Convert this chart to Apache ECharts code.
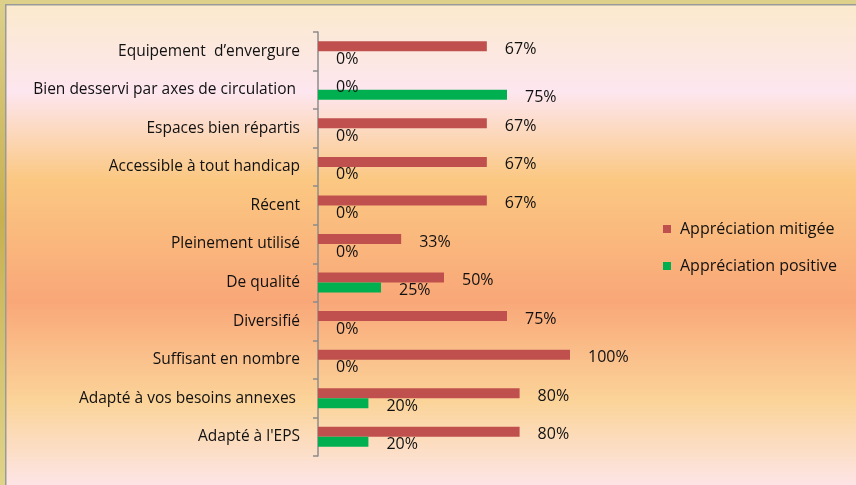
<!DOCTYPE html>
<html>
<head>
<meta charset="utf-8">
<script src="https://cdn.jsdelivr.net/npm/echarts@6/dist/echarts.min.js"></script>
<style>
  html, body { margin: 0; padding: 0; }
  #chart { width: 856px; height: 485px; }
</style>
</head>
<body>
<div id="chart"></div>
<script>
// categories, top to bottom
var categories = [
  'Equipement  d\u2019envergure',
  'Bien desservi par axes de circulation ',
  'Espaces bien r\u00e9partis',
  'Accessible \u00e0 tout handicap',
  'R\u00e9cent',
  'Pleinement utilis\u00e9',
  'De qualit\u00e9',
  'Diversifi\u00e9',
  'Suffisant en nombre',
  'Adapt\u00e9 \u00e0 vos besoins annexes ',
  'Adapt\u00e9 \u00e0 l\'EPS'
]
var mitigee = [67, 0, 67, 67, 67, 33, 50, 75, 100, 80, 80]
var positive = [0, 75, 0, 0, 0, 0, 25, 0, 0, 20, 20]
var seriesNames = ['Appr\u00e9ciation mitig\u00e9e', 'Appr\u00e9ciation positive']

var chart = echarts.init(document.getElementById('chart'))
var font = '"Open Sans", Lato, sans-serif'

var labelStyle = {
  show: true,
  position: 'right',
  distance: 18,
  offset: [0, 3],
  color: '#111',
  fontSize: 16,
  fontFamily: font,
  formatter: '{c}%'
}

var option = {
  animation: false,
  backgroundColor: {
    type: 'linear', x: 0, y: 0, x2: 0, y2: 1,
    colorStops: [
      { offset: 0.00, color: '#fbeacb' },
      { offset: 0.19, color: '#fde6ef' },
      { offset: 0.37, color: '#fbc882' },
      { offset: 0.62, color: '#f9a778' },
      { offset: 0.83, color: '#fbd49a' },
      { offset: 1.00, color: '#fde5e6' }
    ]
  },
  graphic: [
    // outer frame
    { type: 'rect', shape: { x: 0, y: 0, width: 856, height: 4 }, style: { fill: '#ddd08a' } },
    {
      type: 'rect', shape: { x: 0, y: 0, width: 5, height: 485 },
      style: {
        fill: {
          type: 'linear', x: 0, y: 0, x2: 0, y2: 1,
          colorStops: [
            { offset: 0, color: '#ddd08a' },
            { offset: 0.45, color: '#c8b050' },
            { offset: 1, color: '#e0d48a' }
          ]
        }
      }
    },
    { type: 'rect', shape: { x: 5, y: 4, width: 851, height: 1.5 }, style: { fill: '#9a9a9a' } },
    { type: 'rect', shape: { x: 5, y: 4, width: 1.5, height: 481 }, style: { fill: '#9a9a9a' } }
  ],
  legend: {
    orient: 'vertical',
    left: 658,
    top: 216,
    itemWidth: 8,
    itemHeight: 8,
    itemGap: 21,
    icon: 'rect',
    textStyle: { fontSize: 16, color: '#111', fontFamily: font, padding: [0, 0, 0, 4] },
    data: seriesNames
  },
  grid: {
    left: 318,
    top: 32,
    width: 252,
    height: 424,
    containLabel: false
  },
  xAxis: {
    type: 'value',
    min: 0,
    max: 100,
    show: false
  },
  yAxis: {
    type: 'category',
    inverse: true,
    data: categories,
    axisLine: { lineStyle: { color: '#8c8c8c', width: 1.5 } },
    axisTick: { show: true, length: 5, lineStyle: { color: '#8c8c8c', width: 1.5 } },
    axisLabel: { color: '#111', fontSize: 15.5, fontFamily: font, margin: 18 }
  },
  series: [
    {
      name: seriesNames[0],
      type: 'bar',
      barWidth: 10,
      barGap: '0%',
      itemStyle: { color: '#c0504d' },
      label: labelStyle,
      data: mitigee
    },
    {
      name: seriesNames[1],
      type: 'bar',
      barWidth: 10,
      barGap: '0%',
      itemStyle: { color: '#00b050' },
      label: labelStyle,
      data: positive
    }
  ]
}

chart.setOption(option, true)
</script>
</body>
</html>
